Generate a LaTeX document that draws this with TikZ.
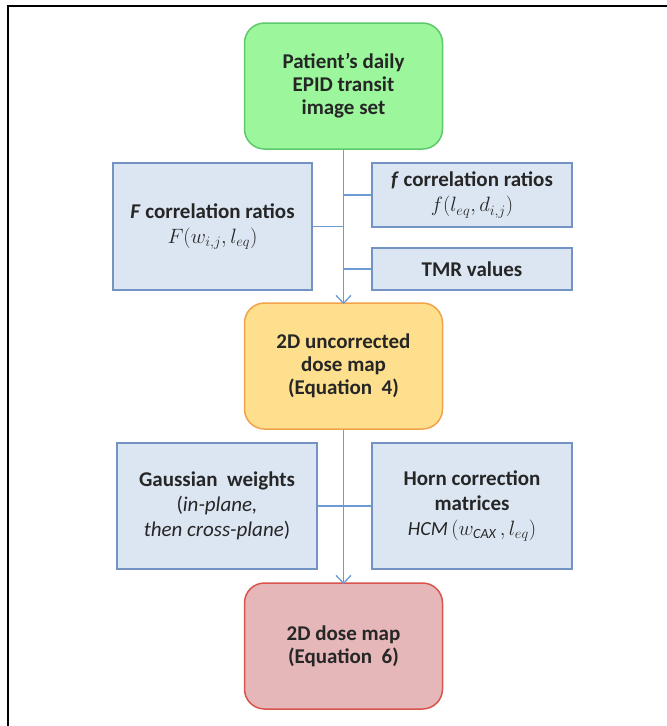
\documentclass[tikz,border=0pt]{standalone}
\usepackage{fontspec}
\setmainfont{Carlito}
\usetikzlibrary{arrows.meta,positioning}
\definecolor{gfill}{HTML}{9CF79C}
\definecolor{gline}{HTML}{5CC96C}
\definecolor{yfill}{HTML}{FDDF8E}
\definecolor{yline}{HTML}{F2A34A}
\definecolor{rfill}{HTML}{E6B7B8}
\definecolor{rline}{HTML}{D9534F}
\definecolor{bfill}{HTML}{DCE6F2}
\definecolor{bline}{HTML}{7293C4}
\definecolor{tline}{HTML}{6D9BD3}
\newcommand{\mathsz}{\fontsize{20}{24}\selectfont}
\tikzset{
  mainbox/.style={rounded corners=20pt, line width=1.5pt, minimum width=198pt, minimum height=126pt,
    align=center, font=\fontsize{21}{23}\selectfont\bfseries, text=black!85, inner sep=0pt},
  sidebox/.style={draw=bline, fill=bfill, line width=1.2pt, minimum width=200pt, align=center,
    font=\fontsize{21}{25}\selectfont, text=black!85, inner sep=0pt},
  trunk/.style={draw=tline, line width=1.3pt},
  arr/.style={trunk, -{Straight Barb[length=8pt,width=15pt,line width=1.3pt]}},
}
\begin{document}
\begin{tikzpicture}[x=1pt,y=-1pt]
\useasboundingbox (0,0) rectangle (667,726);
\draw[line width=2pt] (7.5,726) -- (7.5,5.5) -- (667,5.5);
% main boxes
\node[mainbox, draw=gline, fill=gfill] (g) at (343.5,86) {Patient’s daily\\EPID transit\\image set};
\node[mainbox, draw=yline, fill=yfill] (y) at (343.5,366) {2D uncorrected\\dose map\\(Equation~~4)};
\node[mainbox, draw=rline, fill=rfill] (r) at (343.5,646) {2D dose map\\(Equation~~6)};
% side boxes, first stage
\node[sidebox, minimum width=199pt, minimum height=127pt] (F) at (212.5,226.5)
  {\textbf{\textit{F} correlation ratios}\\ {\mathsz$F(w_{i,j},l_{eq})$}};
\node[sidebox, minimum height=64pt] (f) at (472,195)
  {\textbf{\textit{f} correlation ratios}\\ {\mathsz$f(l_{eq},d_{i,j})$}};
\node[sidebox, minimum height=42pt, font=\fontsize{21}{25}\selectfont\bfseries] (t) at (472,269) {TMR values};
% side boxes, second stage
\node[sidebox, minimum height=126pt] (ga) at (217,506)
  {\textbf{Gaussian~ weights}\\(\textit{in-plane,}\\\textit{then cross-plane})};
\node[sidebox, minimum height=126pt] (h) at (472,506)
  {\textbf{Horn correction}\\\textbf{matrices}\\{\mathsz$\mathit{HCM}\,(w_{\mathit{CAX}}\,,l_{eq})$}};
% trunks
\coordinate (a1) at (g.south |- f.west);
\coordinate (a2) at (g.south |- F.east);
\coordinate (a3) at (g.south |- t.west);
\draw[arr] (g.south) -- ([yshift=-2pt]y.north);
\draw[trunk] (a1) -- (f.west);
\draw[trunk] (F.east) -- (a2);
\draw[trunk] (a3) -- (t.west);
\draw[arr] (y.south) -- ([yshift=-2pt]r.north);
\draw[trunk] (ga.east) -- (h.west);
\end{tikzpicture}
\end{document}
